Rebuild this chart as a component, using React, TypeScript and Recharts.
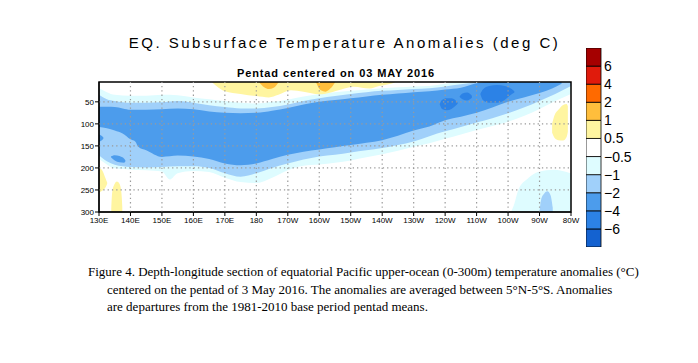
import { ComposedChart, Area, XAxis, YAxis, ReferenceLine, ReferenceArea, BarChart, Bar } from 'recharts';

// axes
const LON_TICKS = [130, 140, 150, 160, 170, 180, 190, 200, 210, 220, 230, 240, 250, 260, 270, 280];
const LON_LABELS = ['130E', '140E', '150E', '160E', '170E', '180', '170W', '160W', '150W', '140W', '130W', '120W', '110W', '100W', '90W', '80W'];
const DEPTH_TICKS = [50, 100, 150, 200, 250, 300];

// colour scale, bottom to top of the colour bar
const LEVEL_COLORS = ['#1462d0', '#2c82e6', '#4c9cec', '#a0d0fa', '#defcff', '#ffffff', '#fff5a0', '#ffbe3c', '#ff6a00', '#e01b0c', '#a50000'];
const LEVEL_LABELS = ['\u22126', '\u22124', '\u22122', '\u22121', '\u22120.5', '0.5', '1', '2', '4', '6'];

// contour outlines: longitude (deg E), upper depth, lower depth (m)
const CYAN_LON = [130, 132.5, 135, 140, 145, 150, 152.5, 155, 160, 165, 170, 175, 180, 185, 190, 195, 200, 205, 210, 215, 220, 225, 230, 235, 240, 245, 250, 255, 260, 265, 270, 275, 280];
const CYAN_TOP = [19, 28, 34, 36, 36, 34, 34, 35, 40, 44, 48, 52, 54, 50, 45, 38, 32, 28, 25, 22, 19, 17, 15, 14, 9, 5, 5, 5, 5, 5, 5, 5, 5];
const CYAN_BOT = [180, 192, 201, 204, 205, 208, 226, 212, 207, 209, 222, 232, 234, 222, 205, 195, 192, 188, 183, 176, 169, 161, 152, 144, 134, 124, 114, 105, 95, 82, 66, 48, 32];

const LIGHT_LON = [130, 132.5, 135, 140, 145, 150, 155, 160, 165, 170, 175, 180, 185, 190, 195, 200, 205, 210, 215, 220, 225, 230, 235, 240, 245, 250, 255, 260, 265, 270, 275, 280];
const LIGHT_TOP = [34, 44, 48, 52, 52, 51, 48, 52, 58, 62, 65, 65, 62, 56, 48, 42, 37, 32, 28, 25, 23, 21, 19, 15, 10, 6, 5, 5, 5, 5, 5, 5];
const LIGHT_BOT = [171, 185, 193, 198, 199, 198, 196, 196, 200, 212, 220, 212, 200, 190, 181, 174, 170, 165, 160, 155, 148, 140, 128, 117, 107, 97, 87, 76, 63, 48, 32, 14];

const MID_LON = [130, 132.5, 135, 137.5, 140, 141.5, 142.5, 145, 150, 155, 160, 165, 170, 175, 180, 185, 190, 195, 200, 205, 210, 215, 220, 225, 230, 235, 240, 245, 250, 255, 260, 265, 270, 274, 277];
const MID_TOP = [61, 61, 62, 65, 68, 68, 68, 68, 67, 65, 67, 72, 75, 76, 75, 70, 64, 56, 50, 46, 42, 38, 34, 31, 28, 26, 22, 18, 8, 5, 5, 5, 5, 5, 5];
const MID_BOT = [107, 110, 115, 122, 135, 140, 152, 160, 175, 172, 174, 180, 190, 194, 190, 180, 170, 163, 158, 153, 148, 143, 137, 127, 115, 106, 92, 84, 75, 63, 50, 40, 30, 20, 9];

const MID_EDGE_LON = [130, 130.8, 131.4];
const MID_EDGE_TOP = [124, 127, 131];
const MID_EDGE_BOT = [141, 138, 133];

const MID_SPOT_LON = [133.8, 135, 136.5, 138, 138.4];
const MID_SPOT_TOP = [174, 171, 173, 179, 183];
const MID_SPOT_BOT = [176, 183, 187, 188, 185];

const DARK1_LON = [238.3, 239, 240.5, 242, 243.5, 244];
const DARK1_TOP = [55, 46, 42, 42, 48, 52];
const DARK1_BOT = [56, 66, 69, 66, 58, 54];

const DARK2_LON = [244.6, 245.5, 247, 248.5];
const DARK2_TOP = [38, 31, 29, 36];
const DARK2_BOT = [39, 44, 47, 41];

const DARK3_LON = [251.2, 252, 254, 256.5, 259, 260.5, 262];
const DARK3_TOP = [32, 22, 14, 12, 14, 18, 26];
const DARK3_BOT = [33, 46, 52, 52, 45, 36, 29];

const SE_CYAN_LON = [261, 262, 263.2, 266.3, 269.5, 274.7, 278.6, 280];
const SE_CYAN_TOP = [299, 281, 251, 224, 209, 204, 209, 212];
const SE_CYAN_BOT = [300, 300, 300, 300, 300, 300, 300, 300];

const SE_LIGHT_LON = [270, 270.5, 271.5, 272.5, 273.5, 274.2];
const SE_LIGHT_TOP = [299, 272, 258, 253, 262, 290];
const SE_LIGHT_BOT = [300, 300, 300, 300, 300, 300];

const WARM_TOP_LON = [166, 168, 170, 175, 180, 184, 187, 191, 195, 200, 204, 207, 211, 216, 219, 222, 224];
const WARM_TOP_BOT = [6, 18, 26, 32, 37, 40, 34, 24, 27, 33, 28, 22, 16, 20, 14, 10, 6];

const HOT1_LON = [181, 182.5, 184, 185.5, 187];
const HOT1_BOT = [6, 17, 21, 18, 6];
const HOT2_LON = [199, 200.5, 202, 203.5, 205];
const HOT2_BOT = [6, 24, 27, 20, 6];

const WARM_SW1_LON = [130, 131, 132, 132.6];
const WARM_SW1_TOP = [200, 205, 222, 233];
const WARM_SW1_BOT = [256, 252, 245, 236];

const WARM_SW2_LON = [133.9, 134.2, 135, 135.7, 136.5, 137.1, 137.4];
const WARM_SW2_TOP = [292, 255, 236, 231, 236, 255, 288];

const WARM_E_LON = [274, 274.8, 276, 277.5, 278.6, 279];
const WARM_E_TOP = [100, 80, 68, 57, 55, 60];
const WARM_E_BOT = [120, 132, 137, 138, 130, 118];

const band = (lon: number[], top: number[], bot: number[]) =>
  lon.map((x, i) => ({ lon: x, d: [top[i], bot[i]] }));
const fromTop = (lon: number[], bot: number[]) => band(lon, lon.map(() => 5), bot);
const toBottom = (lon: number[], top: number[]) => band(lon, top, lon.map(() => 300));

const features = [
  { data: band(CYAN_LON, CYAN_TOP, CYAN_BOT), fill: LEVEL_COLORS[4] },
  { data: band(SE_CYAN_LON, SE_CYAN_TOP, SE_CYAN_BOT), fill: LEVEL_COLORS[4] },
  { data: band(LIGHT_LON, LIGHT_TOP, LIGHT_BOT), fill: LEVEL_COLORS[3] },
  { data: band(SE_LIGHT_LON, SE_LIGHT_TOP, SE_LIGHT_BOT), fill: LEVEL_COLORS[3] },
  { data: band(MID_LON, MID_TOP, MID_BOT), fill: LEVEL_COLORS[2] },
  { data: band(MID_EDGE_LON, MID_EDGE_TOP, MID_EDGE_BOT), fill: LEVEL_COLORS[2] },
  { data: band(MID_SPOT_LON, MID_SPOT_TOP, MID_SPOT_BOT), fill: LEVEL_COLORS[2] },
  { data: band(DARK1_LON, DARK1_TOP, DARK1_BOT), fill: LEVEL_COLORS[1] },
  { data: band(DARK2_LON, DARK2_TOP, DARK2_BOT), fill: LEVEL_COLORS[1] },
  { data: band(DARK3_LON, DARK3_TOP, DARK3_BOT), fill: LEVEL_COLORS[1] },
  { data: fromTop(WARM_TOP_LON, WARM_TOP_BOT), fill: LEVEL_COLORS[6] },
  { data: fromTop(HOT1_LON, HOT1_BOT), fill: LEVEL_COLORS[7] },
  { data: fromTop(HOT2_LON, HOT2_BOT), fill: LEVEL_COLORS[7] },
  { data: band(WARM_SW1_LON, WARM_SW1_TOP, WARM_SW1_BOT), fill: LEVEL_COLORS[6] },
  { data: toBottom(WARM_SW2_LON, WARM_SW2_TOP), fill: LEVEL_COLORS[6] },
  { data: band(WARM_E_LON, WARM_E_TOP, WARM_E_BOT), fill: LEVEL_COLORS[6] },
];

const barRow: Record<string, number | string> = { name: 'scale' };
LEVEL_COLORS.forEach((_, i) => {
  barRow['b' + i] = 1;
});

const axisFont = { fontFamily: 'Liberation Sans, Arial, sans-serif', fontSize: 8, fill: '#000' };

export default function App() {
  return (
    <div style={{ position: 'absolute', left: 0, top: 0, width: 698, height: 363, background: '#fff', overflow: 'hidden' }}>
      <div style={{ position: 'absolute', left: 0, top: 34, width: 689, textAlign: 'center', fontFamily: 'Liberation Sans, Arial, sans-serif', fontSize: 15, letterSpacing: 2.5, lineHeight: '18px', color: '#000' }}>
        EQ. Subsurface Temperature Anomalies (deg C)
      </div>
      <div style={{ position: 'absolute', left: 0, top: 66, width: 672, textAlign: 'center', fontFamily: 'Liberation Sans, Arial, sans-serif', fontSize: 11, fontWeight: 'bold', letterSpacing: 0.9, lineHeight: '14px', color: '#000' }}>
        Pentad centered on 03 MAY 2016
      </div>

      <div style={{ position: 'absolute', left: 0, top: 0 }}>
        <ComposedChart width={698} height={363} margin={{ top: 82, right: 127, bottom: 131, left: 69 }}>
          <XAxis
            dataKey="lon"
            type="number"
            domain={[130, 280]}
            allowDataOverflow
            ticks={LON_TICKS}
            tickFormatter={(v: number) => LON_LABELS[LON_TICKS.indexOf(v)]}
            interval={0}
            tick={axisFont}
            tickSize={4}
            tickMargin={1}
            height={20}
            axisLine={{ stroke: '#000' }}
            tickLine={{ stroke: '#000' }}
          />
          <YAxis
            type="number"
            reversed
            domain={[5, 300]}
            allowDataOverflow
            ticks={DEPTH_TICKS}
            interval={0}
            tick={axisFont}
            tickSize={4}
            tickMargin={1}
            width={30}
            axisLine={{ stroke: '#000' }}
            tickLine={{ stroke: '#000' }}
          />
          {features.map((f, i) => (
            <Area
              key={i}
              data={f.data}
              dataKey="d"
              type="monotone"
              stroke="none"
              fill={f.fill}
              fillOpacity={1}
              isAnimationActive={false}
            />
          ))}
          {LON_TICKS.slice(1, -1).map((x) => (
            <ReferenceLine key={'x' + x} x={x} stroke="#9a9a9a" strokeWidth={1.2} strokeDasharray="1.3 3" />
          ))}
          {DEPTH_TICKS.slice(0, -1).map((y) => (
            <ReferenceLine key={'y' + y} y={y} stroke="#9a9a9a" strokeWidth={1.2} strokeDasharray="1.3 3" />
          ))}
          <ReferenceArea x1={130} x2={280} y1={5} y2={300} fill="none" stroke="#000" strokeWidth={1.5} ifOverflow="visible" />
        </ComposedChart>
      </div>

      <div style={{ position: 'absolute', left: 586, top: 48 }}>
        <BarChart width={62} height={199} data={[barRow]} margin={{ top: 0, right: 0, bottom: 0, left: 0 }} barCategoryGap={0} barGap={0}>
          <XAxis hide dataKey="name" type="category" />
          <YAxis
            orientation="right"
            type="number"
            domain={[0, 11]}
            allowDataOverflow
            ticks={[1, 2, 3, 4, 5, 6, 7, 8, 9, 10]}
            tickFormatter={(v: number) => LEVEL_LABELS[v - 1]}
            interval={0}
            width={47}
            axisLine={false}
            tickLine={false}
            tickSize={0}
            tickMargin={3}
            tick={{ fontFamily: 'Liberation Sans, Arial, sans-serif', fontSize: 14, fill: '#000', textAnchor: 'start' }}
          />
          {LEVEL_COLORS.map((c, i) => (
            <Bar key={i} dataKey={'b' + i} stackId="s" fill={c} stroke="#000" strokeWidth={0.8} isAnimationActive={false} />
          ))}
        </BarChart>
      </div>

      <div style={{ position: 'absolute', left: 88, top: 263, fontFamily: 'Liberation Serif, Times New Roman, serif', fontSize: 13, lineHeight: '17px', color: '#000', whiteSpace: 'nowrap' }}>
        Figure 4. Depth-longitude section of equatorial Pacific upper-ocean (0-300m) temperature anomalies (°C)
      </div>
      <div style={{ position: 'absolute', left: 107, top: 281, fontFamily: 'Liberation Serif, Times New Roman, serif', fontSize: 13, lineHeight: '17px', color: '#000', whiteSpace: 'nowrap' }}>
        centered on the pentad of 3 May 2016. The anomalies are averaged between 5°N-5°S. Anomalies
      </div>
      <div style={{ position: 'absolute', left: 107, top: 298, fontFamily: 'Liberation Serif, Times New Roman, serif', fontSize: 13, lineHeight: '17px', color: '#000', whiteSpace: 'nowrap' }}>
        are departures from the 1981-2010 base period pentad means.
      </div>
    </div>
  );
}
